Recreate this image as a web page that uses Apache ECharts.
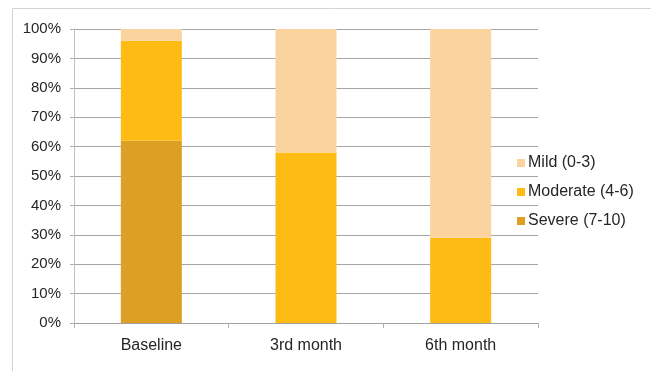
<!DOCTYPE html>
<html>
<head>
<meta charset="utf-8">
<style>
  html, body { margin: 0; padding: 0; background: #ffffff; }
  #chart { width: 651px; height: 371px; }
</style>
<script src="https://cdn.jsdelivr.net/npm/echarts@6/dist/echarts.min.js"></script>
</head>
<body>
<div id="chart"></div>
<script>
// Share of patients by pain severity at each visit (percent)
const categories = ['Baseline', '3rd month', '6th month'];
const severeValues = [62, 0, 0];
const moderateValues = [34, 58, 29];
const mildValues = [4, 42, 71];
const yTickLabels = ['0%', '10%', '20%', '30%', '40%', '50%', '60%', '70%', '80%', '90%', '100%'];

const chart = echarts.init(document.getElementById('chart'), null, { renderer: 'canvas' });

const fontFamily = '"Liberation Sans", Arial, sans-serif';
const textColor = '#262626';

function barSeries(name, data, color) {
  return {
    name: name,
    type: 'bar',
    stack: 'total',
    data: data,
    barWidth: 61,
    itemStyle: { color: color },
    emphasis: { disabled: true }
  };
}

chart.setOption({
  animation: false,
  graphic: [{
    type: 'rect',
    shape: { x: 12.5, y: 8.5, width: 700, height: 400 },
    style: { fill: 'none', stroke: '#d4d4d4', lineWidth: 1 },
    z: -1
  }],
  grid: { left: 74, right: 113, top: 29, bottom: 48, containLabel: false },
  legend: {
    orient: 'vertical',
    left: 512,
    top: 150,
    itemGap: 13,
    itemWidth: 8,
    itemHeight: 8,
    icon: 'rect',
    textStyle: { fontFamily: fontFamily, fontSize: 16, color: textColor, padding: [0, 0, 0, -2] },
    data: ['Mild (0-3)', 'Moderate (4-6)', 'Severe (7-10)']
  },
  xAxis: {
    type: 'category',
    data: categories,
    axisLine: { lineStyle: { color: '#a0a0a0', width: 1 } },
    axisTick: { show: true, length: 5, lineStyle: { color: '#b0b0b0' } },
    axisLabel: { fontFamily: fontFamily, fontSize: 16, color: textColor, margin: 15 }
  },
  yAxis: {
    type: 'value',
    min: 0,
    max: 100,
    interval: 10,
    axisLine: { show: true, lineStyle: { color: '#c0c0c0', width: 1 } },
    axisTick: { show: true, length: 4, lineStyle: { color: '#b0b0b0' } },
    splitLine: { lineStyle: { color: '#a6a6a6', width: 1 } },
    axisLabel: {
      fontFamily: fontFamily, fontSize: 15, color: textColor, margin: 13,
      formatter: function (v) { return yTickLabels[Math.round(v / 10)]; }
    }
  },
  series: [
    barSeries('Severe (7-10)', severeValues, '#dea024'),
    barSeries('Moderate (4-6)', moderateValues, '#fdbb14'),
    barSeries('Mild (0-3)', mildValues, '#fbd39f')
  ]
});
</script>
</body>
</html>
